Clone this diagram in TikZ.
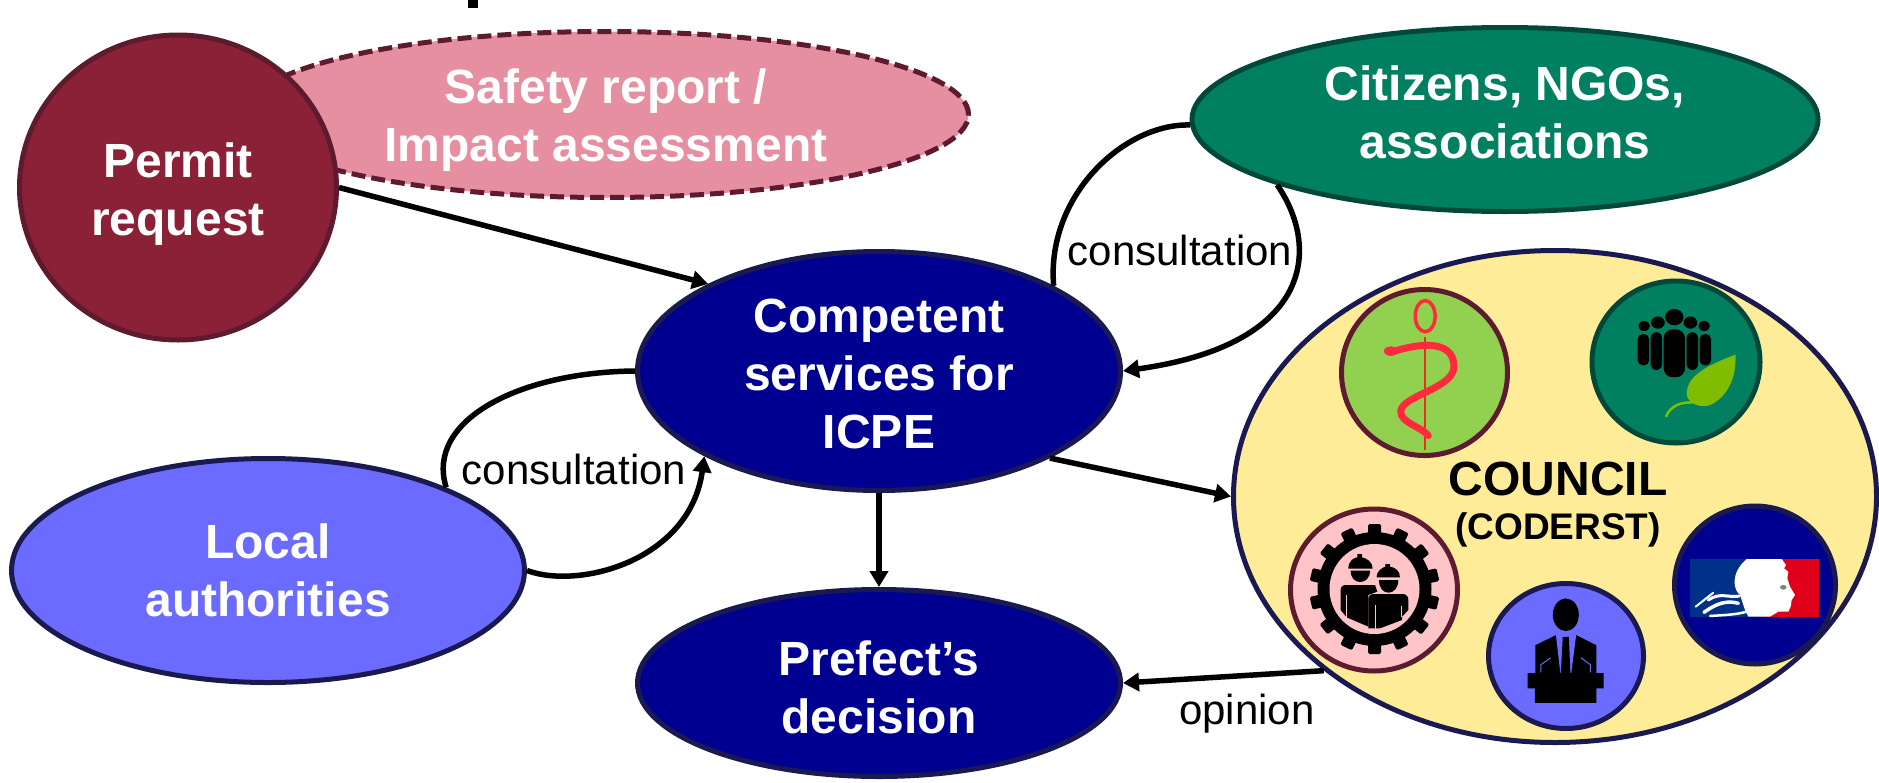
\documentclass[tikz,border=0pt]{standalone}
\usepackage{fontspec}
\setmainfont{Liberation Sans}
\usetikzlibrary{shapes.geometric,arrows.meta}
\definecolor{wine}{HTML}{8B2136}
\definecolor{wineline}{HTML}{5E1A2E}
\definecolor{rosefill}{HTML}{E58FA0}
\definecolor{greenfill}{HTML}{008060}
\definecolor{greenline}{HTML}{00483A}
\definecolor{navyfill}{HTML}{000090}
\definecolor{navyline}{HTML}{1A1A50}
\definecolor{periw}{HTML}{6B6BFF}
\definecolor{yellowfill}{HTML}{FFEC99}
\definecolor{limefill}{HTML}{92D050}
\definecolor{pinkfill}{HTML}{FFC4C8}
\definecolor{snakered}{HTML}{FF2A3C}
\definecolor{leafgreen}{HTML}{80BC00}
\definecolor{frblue}{HTML}{003189}
\definecolor{frred}{HTML}{E1001A}
\tikzset{
  ell/.style n args={2}{ellipse,minimum width=#1pt,minimum height=#2pt,inner sep=0pt,outer sep=2.5pt,line width=5pt},
  white text/.style={text=white,font=\fontsize{48}{58}\selectfont\bfseries,align=center},
  lift/.style={text height=#1pt,text depth=0pt},
  link/.style={line width=5.5pt,-{Triangle[length=16pt,width=18pt]}},
  noarrow/.style={line width=5.5pt},
  plainlabel/.style={font=\fontsize{42}{50}\selectfont,inner sep=0pt},
  badge/.style n args={2}{ellipse,minimum width=#1pt,minimum height=#2pt,inner sep=0pt,outer sep=2.5pt,line width=5pt},
  zoomed/.style={shift={(1280,250)},x=0.3821pt,y=-0.3393pt},
  third/.style={x=0.3333pt,y=-0.3333pt}
}
\begin{document}
\begin{tikzpicture}[x=1pt,y=-1pt]
\useasboundingbox (0,0) rectangle (1879,782);
\fill[black] (468,0) rectangle (478,8);
% main ellipses
\node[ell={725}{166},draw=wineline,fill=rosefill,dash pattern=on 14pt off 6pt,white text,lift=93] (safety) at (606,114.5) {Safety report /\\Impact assessment};
\node[ell={317}{305},draw=wineline,fill=wine,white text,lift=95] (permit) at (178,187.5) {Permit\\request};
\node[ell={626}{184},draw=greenline,fill=greenfill,white text,lift=78] (citizens) at (1505,119.5) {Citizens, NGOs,\\associations};
\node[ell={483}{239},draw=navyline,fill=navyfill,white text,lift=154] (competent) at (879,371) {Competent\\services for\\ICPE};
\node[ell={513}{224},draw=navyline,fill=periw,white text,lift=92] (local) at (268,570.5) {Local\\authorities};
\node[ell={483}{187},draw=navyline,fill=navyfill,white text,lift=100] (prefect) at (879,683) {Prefect’s\\decision};
\node[ell={643}{492},draw=navyline,fill=yellowfill] (council) at (1555,496.5) {};
\node[inner sep=0pt,align=center,font=\fontsize{48}{46}\selectfont\bfseries,anchor=base] (counciltext) at (1558,539) {COUNCIL\\[-2pt]\fontsize{37}{46}\selectfont (CODERST)};
% connectors
\draw[link] (permit.0) -- (competent.153.8);
\draw[link] (competent.-27.3) -- (council.180);
\draw[link] (competent.270) -- (prefect.90);
\draw[link] (council.217.3) -- (prefect.0);
\draw[noarrow] (citizens.181) .. controls (1125,123) and (1046,195) .. (competent.26.6);
\draw[link] (citizens.196.1) .. controls (1322,250) and (1310,345) .. (competent.0);
\draw[noarrow] (competent.180) .. controls (520,372) and (425,420) .. (local.25.9);
\draw[link] (local.0) .. controls (580,590) and (690,560) .. (competent.206.7);
\node[plainlabel] (consultA) at (1180,250) {consultation};
\node[plainlabel] (consultB) at (574,469) {consultation};
\node[plainlabel] (opinion) at (1247,714) {opinion};
% badges
\node[badge={166}{166},draw=wineline,fill=limefill] (health) at (1424.5,372.5) {};
\node[badge={168}{162},draw=greenline,fill=greenfill] (nature) at (1676,362) {};
\node[badge={167}{162},draw=wineline,fill=pinkfill] (industry) at (1374,590) {};
\node[badge={155}{145},draw=navyline,fill=periw] (elected) at (1566,656) {};
\node[badge={161}{158},draw=navyline,fill=navyfill] (state) at (1755,585) {};
\begin{scope}[zoomed]
% health
\draw[red!60!brown,line width=1.8pt] (379,255) -- (379,590);
\draw[snakered,line width=3.5pt] (380,195) ellipse (26 and 46);
\draw[snakered,line width=7pt,line cap=round] (300,298) .. controls (380,270) and (460,270) .. (455,350) .. controls (445,410) and (320,430) .. (316,475) .. controls (315,510) and (370,520) .. (388,547);
\fill[snakered] (290,298) ellipse (18 and 14);
% people and leaf
\foreach \cx/\cy/\rr in {953/224/15,989/214/18,1032/198/24,1074/214/18,1110/224/15}
  \fill[black] (\cx,\cy) ellipse ({\rr} and {\rr});
\fill[black,rounded corners=5pt] (936,248) rectangle (966,340);
\fill[black,rounded corners=5pt] (1098,248) rectangle (1128,340);
\fill[black,rounded corners=6pt] (970,242) rectangle (1000,354);
\fill[black,rounded corners=6pt] (1064,242) rectangle (1094,354);
\fill[black,rounded corners=9pt] (1004,234) rectangle (1060,375);
\fill[leafgreen] (1192,308) .. controls (1120,340) and (1060,370) .. (1065,430) .. controls (1070,450) and (1100,470) .. (1130,455) .. controls (1170,430) and (1195,380) .. cycle;
\draw[leafgreen,line width=2.5pt] (1010,492) .. controls (1020,460) and (1050,445) .. (1090,450);
% speaker
\fill[black] (748,1075) ellipse (34 and 48);
\fill[black] (668,1165) -- (722,1135) -- (775,1135) -- (828,1165) -- (828,1250) -- (668,1250) -- cycle;
\fill[periw] (722,1135) -- (775,1135) -- (762,1250) -- (734,1250) -- cycle;
\fill[black] (740,1140) -- (756,1140) -- (760,1247) -- (735,1247) -- cycle;
\fill[black] (648,1247) -- (847,1247) -- (847,1292) -- (828,1292) -- (828,1335) -- (667,1335) -- (667,1292) -- (648,1292) -- cycle;
\draw[periw,line width=1pt] (683,1245) -- (683,1222) -- (708,1202);
\draw[periw,line width=1pt] (812,1245) -- (812,1222) -- (788,1202);
\end{scope}
% flag
\begin{scope}[shift={(1680,550)},third]
\fill[frblue] (30,27) rectangle (250,200);
\fill[frred] (250,27) rectangle (417,200);
\fill[white] (200,27) -- (305,27) -- (318,45) -- (312,55) -- (325,65) -- (322,85) -- (330,110) -- (345,135) -- (335,150) -- (332,170) -- (325,185) -- (295,185) -- (270,200) -- (205,200) -- (195,180) -- (180,135) .. controls (160,120) and (150,70) .. cycle;
\draw[white,line width=3pt,line cap=round] (178,138) .. controls (150,145) and (120,125) .. (85,150);
\draw[white,line width=2pt,line cap=round] (100,128) -- (47,170);
\draw[white,line width=3.5pt,line cap=round] (175,160) .. controls (140,150) and (110,160) .. (72,187);
\draw[white,line width=2.5pt,line cap=round] (200,185) .. controls (165,195) and (130,195) .. (90,198);
\fill[gray] (310,112) ellipse (10 and 7);
\end{scope}
% gear and workers
\begin{scope}[shift={(1374.5,589)}]
\foreach \a in {0,25.7,...,340}
  \fill[black,rotate=\a,rounded corners=1.5pt] (-6.5,50) rectangle (6.5,65);
\fill[black] (0,0) circle (57);
\fill[pinkfill] (0,0) circle (45);
\end{scope}
\begin{scope}[shift={(1300,520)},third]
% worker one
\fill[black] (145,146) .. controls (145,120) and (165,112) .. (172,112) -- (172,102) -- (186,102) -- (186,112) .. controls (200,115) and (218,125) .. (218,146) -- cycle;
\fill[black] (152,152) -- (210,152) .. controls (210,175) and (195,186) .. (181,186) .. controls (165,186) and (152,175) .. cycle;
\fill[black] (122,210) .. controls (122,200) and (128,195) .. (138,195) -- (225,195) -- (232,215) -- (205,225) -- (205,320) -- (140,292) -- (122,270) -- cycle;
\draw[pinkfill,line width=1.5pt] (140,226) -- (140,295);
% worker two
\fill[black] (230,172) .. controls (230,150) and (250,142) .. (256,140) -- (256,132) -- (270,132) -- (270,140) .. controls (285,142) and (300,152) .. (300,172) -- cycle;
\fill[black] (237,180) -- (295,180) .. controls (295,205) and (280,218) .. (266,218) .. controls (250,218) and (237,205) .. cycle;
\fill[black] (205,238) .. controls (205,228) and (212,222) .. (222,222) -- (310,222) .. controls (320,224) and (325,230) .. (325,240) -- (325,270) -- (306,290) -- (306,300) -- (240,325) -- (205,325) -- cycle;
\draw[pinkfill,line width=1.5pt] (227,256) -- (227,327);
\draw[pinkfill,line width=1.5pt] (305,258) -- (305,292);
\end{scope}
\end{tikzpicture}
\end{document}
